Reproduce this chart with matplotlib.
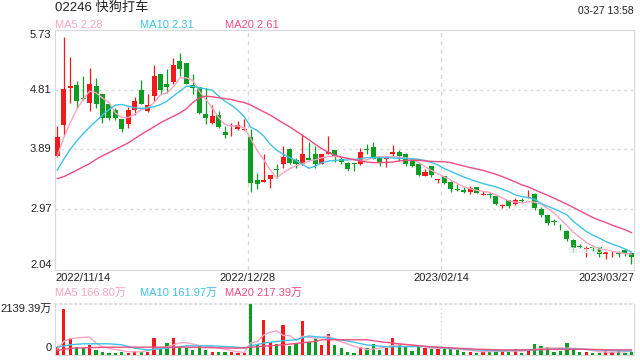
import matplotlib
matplotlib.use('Agg')
import matplotlib.pyplot as plt

plt.rcParams['font.family'] = ['Liberation Sans', 'Noto Sans CJK SC', 'DejaVu Sans']

title = '02246 快狗打车'
stamp = '03-27 13:58'
date_labels = ['2022/11/14', '2022/12/28', '2023/02/14', '2023/03/27']
price_ticks = [5.73, 4.81, 3.89, 2.97, 2.04]
ma_legend = ['MA5 2.28', 'MA10 2.31', 'MA20 2.61']
vol_legend = ['MA5 166.80万', 'MA10 161.97万', 'MA20 217.39万']
vol_top = 2139.39

opens = [3.79, 4.26, 4.84, 4.88, 4.67, 4.61, 4.86, 4.74, 4.59, 4.50,
         4.35, 4.28, 4.50, 4.80, 4.48, 4.71, 5.05, 4.90, 4.93, 5.245,
         5.22, 4.88, 4.845, 4.43, 4.30, 4.415, 4.16, 4.105, 4.205, 4.195,
         4.085, 3.42, 3.395, 3.43, 3.59, 3.67, 3.90, 3.73, 3.66, 3.765,
         3.825, 3.67, 3.825, 3.88, 3.735, 3.685, 3.675, 3.66, 3.895, 3.93,
         3.79, 3.74, 3.825, 3.855, 3.825, 3.735, 3.67, 3.48, 3.635, 3.42,
         3.48, 3.395, 3.28, 3.27, 3.24, 3.31, 3.195, 3.20, 3.175, 3.015,
         3.11, 3.045, 3.105, 3.145, 3.21, 2.97, 2.88, 2.785, 2.67, 2.64,
         2.50, 2.41, 2.365, 2.39, 2.385, 2.28, 2.275, 2.30, 2.34, 2.29]
highs = [4.25, 5.62, 5.31, 4.94, 5.02, 5.14, 4.99, 4.745, 4.595, 4.53,
         4.355, 4.545, 4.70, 4.96, 4.74, 5.18, 5.055, 5.13, 5.29, 5.37,
         5.225, 5.05, 4.85, 4.835, 4.565, 4.48, 4.25, 4.30, 4.325, 4.35,
         4.21, 3.52, 3.815, 3.50, 3.66, 3.94, 3.905, 3.765, 4.13, 4.00,
         3.94, 3.82, 4.095, 3.885, 3.775, 3.69, 3.68, 3.915, 3.965, 4.00,
         3.795, 3.775, 3.955, 3.875, 3.83, 3.74, 3.675, 3.595, 3.64, 3.44,
         3.485, 3.40, 3.365, 3.315, 3.33, 3.315, 3.25, 3.24, 3.18, 3.055,
         3.115, 3.14, 3.14, 3.26, 3.215, 3.005, 2.885, 2.815, 2.74, 2.645,
         2.505, 2.435, 2.41, 2.42, 2.395, 2.32, 2.32, 2.32, 2.355, 2.295]
lows = [3.78, 4.105, 4.61, 4.53, 4.655, 4.48, 4.53, 4.30, 4.335, 4.335,
        4.15, 4.22, 4.42, 4.59, 4.47, 4.63, 4.74, 4.76, 4.90, 5.015,
        4.89, 4.74, 4.44, 4.285, 4.275, 4.22, 4.07, 4.10, 4.195, 4.19,
        3.235, 3.28, 3.39, 3.30, 3.455, 3.61, 3.67, 3.61, 3.655, 3.72,
        3.60, 3.66, 3.82, 3.70, 3.66, 3.555, 3.565, 3.655, 3.815, 3.74,
        3.635, 3.62, 3.79, 3.71, 3.635, 3.62, 3.48, 3.475, 3.465, 3.375,
        3.355, 3.24, 3.255, 3.225, 3.20, 3.215, 3.19, 3.14, 3.035, 2.995,
        2.995, 3.04, 3.07, 3.14, 2.955, 2.845, 2.73, 2.73, 2.65, 2.485,
        2.305, 2.38, 2.23, 2.33, 2.24, 2.205, 2.23, 2.24, 2.255, 2.125]
closes = [4.085, 4.82, 4.86, 4.64, 4.66, 4.90, 4.58, 4.37, 4.375, 4.375,
          4.20, 4.49, 4.64, 4.59, 4.57, 5.025, 4.81, 4.85, 5.18, 5.13,
          4.90, 4.835, 4.45, 4.375, 4.41, 4.24, 4.105, 4.115, 4.26, 4.21,
          3.38, 3.355, 3.425, 3.49, 3.58, 3.775, 3.685, 3.66, 3.815, 3.73,
          3.67, 3.815, 3.845, 3.775, 3.70, 3.585, 3.66, 3.855, 3.88, 3.745,
          3.685, 3.755, 3.855, 3.79, 3.67, 3.635, 3.49, 3.535, 3.49, 3.43,
          3.37, 3.275, 3.26, 3.23, 3.29, 3.225, 3.205, 3.185, 3.045, 3.025,
          3.02, 3.115, 3.095, 3.155, 2.995, 2.885, 2.765, 2.775, 2.66, 2.51,
          2.37, 2.385, 2.38, 2.37, 2.28, 2.31, 2.285, 2.285, 2.29, 2.23]
volumes = [330, 1925, 713, 328, 285, 428, 214, 128, 86, 86,
           128, 86, 185, 128, 128, 713, 242, 513, 713, 385,
           285, 214, 385, 214, 128, 128, 128, 128, 86, 86,
           2139.39, 470, 1455, 542, 470, 1241, 385, 470, 1412, 528,
           699, 428, 898, 428, 300, 128, 86, 328, 285, 470,
           214, 300, 727, 428, 328, 171, 356, 300, 257, 257,
           257, 242, 214, 128, 128, 86, 128, 242, 171, 171,
           128, 242, 86, 242, 470, 385, 328, 128, 171, 513,
           257, 128, 128, 86, 86, 171, 128, 214, 86, 128]

ma5 = [3.79, 4.07, 4.30, 4.50, 4.66, 4.785, 4.76, 4.68, 4.61, 4.45,
       4.38, 4.38, 4.43, 4.50, 4.53, 4.61, 4.73, 4.76, 4.85, 4.99,
       4.99, 4.95, 4.785, 4.66, 4.53, 4.38, 4.27, 4.25, 4.25, 4.22,
       4.05, 3.87, 3.73, 3.575, 3.45, 3.53, 3.59, 3.64, 3.67, 3.71,
       3.73, 3.76, 3.78, 3.78, 3.77, 3.75, 3.73, 3.72, 3.73, 3.76,
       3.78, 3.78, 3.78, 3.77, 3.76, 3.74, 3.69, 3.625, 3.565, 3.515,
       3.465, 3.42, 3.365, 3.315, 3.285, 3.26, 3.245, 3.23, 3.19, 3.14,
       3.10, 3.08, 3.065, 3.085, 3.08, 3.05, 2.98, 2.915, 2.815, 2.72,
       2.615, 2.54, 2.46, 2.405, 2.355, 2.345, 2.325, 2.305, 2.29, 2.28]
ma10 = [3.57, 3.74, 3.89, 4.02, 4.13, 4.23, 4.325, 4.42, 4.50, 4.57,
        4.58, 4.555, 4.53, 4.52, 4.53, 4.545, 4.58, 4.63, 4.71, 4.785,
        4.86, 4.86, 4.835, 4.82, 4.80, 4.71, 4.63, 4.57, 4.49, 4.39,
        4.23, 4.18, 4.095, 3.97, 3.88, 3.815, 3.765, 3.72, 3.66, 3.60,
        3.635, 3.685, 3.71, 3.72, 3.727, 3.727, 3.737, 3.747, 3.763, 3.763,
        3.763, 3.763, 3.758, 3.752, 3.75, 3.747, 3.737, 3.72, 3.686, 3.65,
        3.594, 3.553, 3.507, 3.466, 3.43, 3.395, 3.364, 3.338, 3.313, 3.277,
        3.241, 3.19, 3.165, 3.15, 3.124, 3.057, 3.016, 2.976, 2.93, 2.884,
        2.781, 2.705, 2.628, 2.572, 2.526, 2.475, 2.434, 2.398, 2.36, 2.31]
ma20 = [3.44, 3.47, 3.52, 3.57, 3.62, 3.67, 3.737, 3.79, 3.84, 3.89,
        3.94, 3.99, 4.054, 4.12, 4.18, 4.238, 4.30, 4.35, 4.40, 4.45,
        4.514, 4.61, 4.683, 4.708, 4.70, 4.683, 4.67, 4.657, 4.63, 4.61,
        4.57, 4.519, 4.468, 4.417, 4.356, 4.294, 4.238, 4.172, 4.105, 4.039,
        3.967, 3.901, 3.845, 3.798, 3.773, 3.752, 3.732, 3.712, 3.696, 3.686,
        3.686, 3.69, 3.696, 3.712, 3.722, 3.722, 3.722, 3.712, 3.706, 3.701,
        3.701, 3.686, 3.66, 3.635, 3.61, 3.589, 3.568, 3.538, 3.507, 3.471,
        3.43, 3.39, 3.344, 3.313, 3.267, 3.226, 3.185, 3.139, 3.093, 3.047,
        2.996, 2.945, 2.894, 2.843, 2.802, 2.766, 2.725, 2.69, 2.655, 2.61]

vol_ma5_idx = [0, 1, 2, 4, 5, 6, 7, 9, 11, 13, 15, 17, 19, 20, 22, 24, 26, 28, 29,
               30, 31, 32, 33, 34, 35, 36, 37, 38, 40, 42, 44, 46, 48, 50, 52, 54,
               56, 58, 60, 62, 64, 66, 68, 70, 72, 74, 76, 78, 80, 82, 84, 86, 88, 89]
vol_ma5 = [242, 570, 685, 740, 755, 500, 330, 230, 140, 130, 250, 340, 510, 520,
           400, 345, 240, 130, 110, 510, 560, 840, 950, 1015, 820, 820, 620, 790,
           700, 790, 550, 370, 225, 280, 400, 440, 400, 282, 285, 245, 194, 137,
           151, 168, 160, 234, 300, 296, 279, 239, 137, 120, 137, 167]
vol_ma10_idx = [0, 2, 4, 8, 10, 12, 14, 17, 20, 24, 28, 29, 30, 32, 35, 37, 39, 40,
                41, 43, 46, 48, 51, 54, 57, 60, 63, 66, 69, 72, 75, 79, 82, 85, 89]
vol_ma10 = [328, 428, 470, 470, 428, 285, 214, 285, 385, 385, 328, 285, 385, 500,
            600, 640, 800, 767, 740, 670, 538, 420, 344, 350, 358, 300, 251, 200,
            177, 200, 226, 269, 230, 200, 162]
vol_ma20_idx = [0, 2, 8, 14, 20, 28, 30, 35, 40, 41, 44, 48, 50, 53, 56, 59, 62, 65,
                69, 73, 77, 82, 86, 89]
vol_ma20 = [185, 285, 328, 328, 328, 285, 328, 428, 570, 640, 640, 639, 560, 470,
            385, 328, 285, 242, 214, 214, 242, 242, 214, 217]

RED = '#f21a1a'
GREEN = '#0d9d23'
C5 = '#f7a5c2'
C10 = '#3ec3e6'
C20 = '#ef4d80'
GRID = '#d9d9d9'

W, H = 640, 360
fig = plt.figure(figsize=(6.4, 3.6), dpi=100)


def fx(px):
    return px / W


def fy(py):
    return 1 - py / H


ax = fig.add_axes([fx(55), fy(269.7), fx(579), 240 / H])
axv = fig.add_axes([fx(55), fy(355), fx(579), 51 / H])

x = list(range(len(closes)))
colors = [RED if c >= o else GREEN for o, c in zip(opens, closes)]

# price candles
ax.vlines(x, lows, highs, colors=colors, linewidth=0.9, zorder=3)
bottoms = [min(o, c) for o, c in zip(opens, closes)]
heights = [max(abs(c - o), 0.013) for o, c in zip(opens, closes)]
ax.bar(x, heights, bottom=bottoms, width=0.78, color=colors, linewidth=0, zorder=4)

ax.plot(x, ma5, color=C5, lw=1.0, zorder=5)
ax.plot(x, ma10, color=C10, lw=1.0, zorder=5)
ax.plot(x, ma20, color=C20, lw=1.0, zorder=5)

ax.set_xlim(-0.36, 89.4)
ax.set_ylim(price_ticks[-1], price_ticks[0])
for t in price_ticks[1:-1]:
    ax.axhline(t, color=GRID, lw=1, ls=(0, (2, 2.5)), zorder=1)
for f in (1 / 3, 2 / 3):
    ax.plot([f, f], [0, 1], transform=ax.transAxes, color=GRID, lw=1,
            ls=(0, (3, 3)), zorder=1)

for sp in ax.spines.values():
    sp.set_color(GRID)
ax.set_xticks([])
ax.set_yticks([])

yt = ax.get_yaxis_transform()
for i, t in enumerate(price_ticks):
    va = 'top' if i == 0 else ('bottom' if i == len(price_ticks) - 1 else 'center')
    ax.text(-0.006, t, f'{t:.2f}', transform=yt, ha='right', va=va,
            fontsize=8, color='#222222')

# volume
axv.bar(x, volumes, width=0.5, color=colors, linewidth=0, zorder=3)
axv.plot(vol_ma5_idx, vol_ma5, color=C5, lw=1.0, zorder=4)
axv.plot(vol_ma10_idx, vol_ma10, color=C10, lw=1.0, zorder=4)
axv.plot(vol_ma20_idx, vol_ma20, color=C20, lw=1.0, zorder=4)
axv.set_xlim(-0.36, 89.4)
axv.set_ylim(0, vol_top)
axv.set_xticks([])
axv.set_yticks([])
for name, sp in axv.spines.items():
    sp.set_color(GRID)
axv.spines['top'].set_linestyle((0, (1, 2)))
axv.spines['top'].set_linewidth(1.2)
for f in (1 / 3, 2 / 3):
    axv.plot([f, f], [0, 1], transform=axv.transAxes, color=GRID, lw=1,
             ls=(0, (1, 2)), zorder=1)
axv.text(-0.006, 1, f'{vol_top:.2f}万', transform=axv.transAxes, ha='right',
         va='top', fontsize=8, color='#222222')
axv.text(-0.006, 0.03, '0', transform=axv.transAxes, ha='right', va='bottom',
         fontsize=8, color='#222222')

# texts
fig.text(fx(55), fy(8), title, ha='left', va='center', fontsize=9.5, color='#222222')
fig.text(fx(634), fy(11.5), stamp, ha='right', va='center', fontsize=7.5, color='#222222')
for s, px, c in zip(ma_legend, [55, 140, 225], [C5, C10, C20]):
    fig.text(fx(px), fy(24.5), s, ha='left', va='center', fontsize=8, color=c)
for s, px, c in zip(vol_legend, [55, 140, 225], [C5, C10, C20]):
    fig.text(fx(px), fy(293), s, ha='left', va='center', fontsize=8, color=c)

date_pos = [(55, 'left'), (248, 'center'), (441, 'center'), (634, 'right')]
for s, (px, ha) in zip(date_labels, date_pos):
    fig.text(fx(px), fy(278), s, ha=ha, va='center', fontsize=8, color='#222222')

fig.text(fx(590), fy(250), 'sina.com', ha='center', va='center', fontsize=8,
         color='#e8e8e8', zorder=0)

fig.savefig('out.png', dpi=100)
